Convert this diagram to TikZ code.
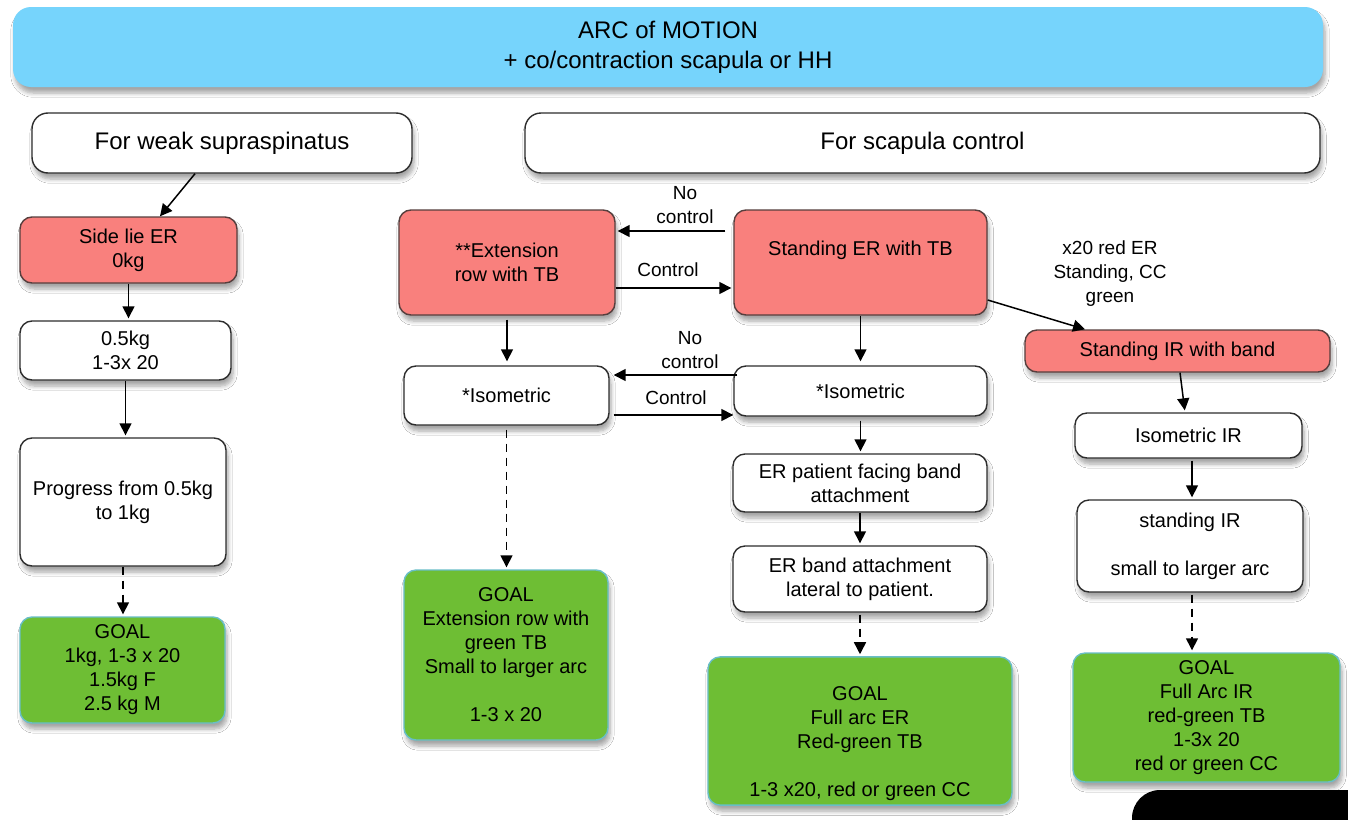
\documentclass[tikz,border=0pt]{standalone}
\usepackage{fontspec}
\setmainfont{Liberation Sans}
\usetikzlibrary{arrows.meta,shadows.blur}
\definecolor{arcblue}{RGB}{118,212,252}
\definecolor{stepred}{RGB}{249,128,125}
\definecolor{goalgreen}{RGB}{110,190,52}
\definecolor{goalrim}{RGB}{105,190,200}
\definecolor{boxrim}{RGB}{45,45,45}
\tikzset{
  sz/.style 2 args={minimum width=#1*0.5pt, minimum height=#2*0.5pt},
  basebox/.style={rectangle, rounded corners=6pt, line width=0.7pt, align=center,
                  inner sep=2pt, font=\fontsize{10}{12}\selectfont,
                  blur shadow={shadow xshift=1pt, shadow yshift=-3pt,
                               shadow blur steps=6, shadow opacity=35}},
  wbox/.style={basebox, draw=boxrim, fill=white},
  rbox/.style={basebox, draw=boxrim!80!stepred, fill=stepred},
  gbox/.style={basebox, draw=goalrim, fill=goalgreen},
  headbox/.style={wbox, rounded corners=8pt, font=\fontsize{12}{14}\selectfont},
  banner/.style={basebox, rounded corners=9pt, fill=arcblue, draw=none,
                 font=\fontsize{12}{15}\selectfont},
  flow/.style={-{Triangle[length=6pt, width=6pt]}, line width=0.75pt, black},
  flowdash/.style={flow, dash pattern=on 4pt off 3pt},
  lbl/.style={align=center, inner sep=0pt, font=\fontsize{9.5}{12}\selectfont},
}
\begin{document}
\begin{tikzpicture}[x=0.5pt, y=-0.5pt]
  \useasboundingbox (0,0) rectangle (1348,819);
  \fill[white] (0,0) rectangle (1348,819);
  % header and the two branches
  \node[banner, sz={1310}{80}] (arc) at (668,47) {ARC of MOTION\\+ co/contraction scapula or HH};
  \node[headbox, sz={380}{60}] (weak) at (222,143) {For weak supraspinatus};
  \node[headbox, sz={795}{60}] (scap) at (922.5,143) {For scapula control};
  % left column
  \node[rbox, sz={217}{66}] (side) at (128.5,250) {Side lie ER\\0kg};
  \node[wbox, sz={211}{59}] (half) at (125.5,350.5) {0.5kg\\1-3x 20};
  \node[wbox, sz={206}{128}] (prog) at (123,502) {Progress from 0.5kg\\to 1kg};
  \node[gbox, sz={205}{106}] (goalL) at (122.5,670) {GOAL\\1kg, 1-3 x 20\\1.5kg F\\2.5 kg M};
  % middle columns
  \node[rbox, sz={216}{105}] (ext) at (507,262.5) {**Extension\\row with TB};
  \node[wbox, sz={205}{59}] (isoL) at (506.5,395.5) {*Isometric};
  \node[gbox, sz={204}{170}] (goalM) at (506,655)
    {GOAL\\Extension row with\\green TB\\Small to larger arc\\[12pt]1-3 x 20};
  \node[rbox, sz={253}{105}, text depth=14pt] (stdER) at (860.5,262.5) {Standing ER with TB};
  \node[wbox, sz={253}{50}] (isoM) at (860.5,391) {*Isometric};
  \node[wbox, sz={254}{58}] (facing) at (860,483) {ER patient facing band\\attachment};
  \node[wbox, sz={254}{66}] (lateral) at (860,579) {ER band attachment\\lateral to patient.};
  \node[gbox, sz={304}{148}] (goalC) at (860,731)
    {\rule{0pt}{7pt}\\[1pt]GOAL\\Full arc ER\\Red-green TB\\[12pt]1-3 x20, red or green CC};
  % right column
  \node[rbox, sz={305}{42}] (irband) at (1177.5,351) {Standing IR with band};
  \node[wbox, sz={227}{45}] (isoIR) at (1188.5,435.5) {Isometric IR};
  \node[wbox, sz={226}{92}] (stdIR) at (1190,546) {standing IR\\[12pt]small to larger arc};
  \node[gbox, sz={267}{129}] (goalR) at (1206.5,717.5)
    {GOAL\\Full Arc IR\\red-green TB\\1-3x 20\\red or green CC};
  % connector labels
  \node[lbl] (noctl1) at (685,205) {No\\control};
  \node[lbl] (ctl1) at (668,270) {Control};
  \node[lbl] (noctl2) at (690,350) {No\\control};
  \node[lbl] (ctl2) at (676,398) {Control};
  \node[lbl] (x20) at (1110,274) {x20 red ER\\Standing, CC\\green};
  % connectors
  \draw[flow] ([xshift=-13.5pt]weak.south) -- ([xshift=15.75pt]side.north);
  \draw[flow, shorten >=1pt] (side.south) -- (side.south |- half.north);
  \draw[flow, shorten >=1pt] (half.south) -- (half.south |- prog.north);
  \draw[flowdash, shorten >=1pt] (prog.south) -- (prog.south |- goalL.north);
  \draw[flow, shorten <=2pt, shorten >=2pt] (ext.south) -- (ext.south |- isoL.north);
  \draw[flowdash, shorten <=2pt, shorten >=1pt] (isoL.south) -- (isoL.south |- goalM.north);
  \draw[flow] ([xshift=-4pt, yshift=15.75pt]stdER.west) -- ([xshift=1pt, yshift=15.75pt]ext.east);
  \draw[flow] ([yshift=-12.75pt]ext.east) -- ([xshift=-1pt, yshift=-12.75pt]stdER.west);
  \draw[flow] ([xshift=2pt, yshift=8pt]isoM.west) -- ([xshift=2pt, yshift=10.25pt]isoL.east);
  \draw[flow] ([xshift=2pt, yshift=-9.75pt]isoL.east) -- ([yshift=-12pt]isoM.west);
  \draw[flow, shorten >=2pt] (stdER.south) -- (stdER.south |- isoM.north);
  \draw[flow, shorten <=2pt, shorten >=1pt] (isoM.south) -- (isoM.south |- facing.north);
  \draw[flow, shorten >=1pt] (facing.south) -- (facing.south |- lateral.north);
  \draw[flowdash, shorten <=1pt, shorten >=1pt] (lateral.south) -- (lateral.south |- goalC.north);
  \draw[flow] ([yshift=-18.75pt]stdER.east) -- ([xshift=-46.25pt]irband.north);
  \draw[flow, shorten >=1pt] ([xshift=1.25pt]irband.south) -- ([xshift=-1.75pt]isoIR.north);
  \draw[flow, shorten <=1pt, shorten >=1pt] ([xshift=1.75pt]isoIR.south) -- ([xshift=1pt]stdIR.north);
  \draw[flowdash, shorten <=1pt, shorten >=1pt] ([xshift=1pt]stdIR.south) -- ([xshift=1pt]stdIR.south |- goalR.north);
  % black bar at the lower right edge
  \fill[black, rounded corners=14pt] (1132,790) rectangle (1380,850);
\end{tikzpicture}
\end{document}
